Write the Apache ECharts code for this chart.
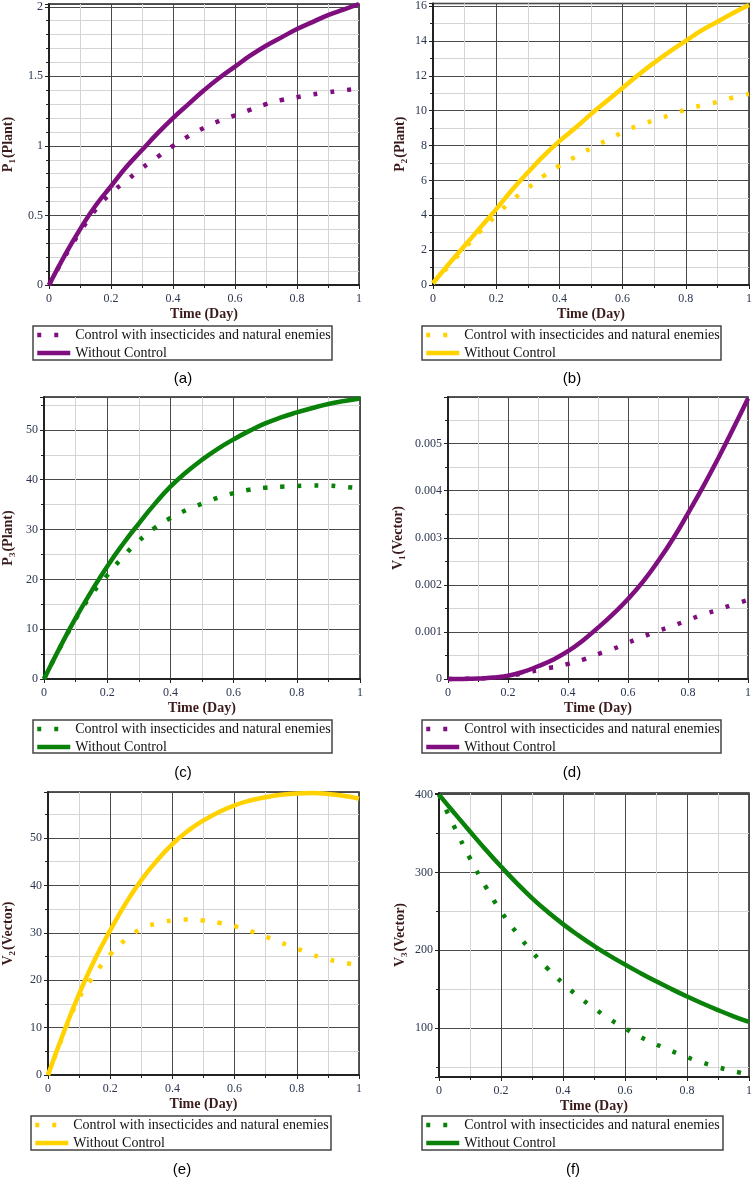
<!DOCTYPE html>
<html>
<head>
<meta charset="utf-8">
<script src="https://cdn.jsdelivr.net/npm/echarts@6/dist/echarts.min.js"></script>
<style>
  html, body { margin: 0; padding: 0; background: #fff; }
  #chart { width: 755px; height: 1180px; }
</style>
</head>
<body>
<div id="chart"></div>
<script>
// time axis (day)
const time = [0, 0.05, 0.1, 0.15, 0.2, 0.25, 0.3, 0.35, 0.4, 0.45, 0.5, 0.55, 0.6, 0.65, 0.7, 0.75, 0.8, 0.85, 0.9, 0.95, 1];

// plants
const p1Control = [0, 0.20, 0.38, 0.54, 0.66, 0.75, 0.84, 0.92, 1.00, 1.07, 1.13, 1.18, 1.22, 1.26, 1.30, 1.33, 1.35, 1.37, 1.385, 1.40, 1.41];
const p1Without = [0, 0.21, 0.40, 0.57, 0.71, 0.85, 0.97, 1.09, 1.20, 1.30, 1.40, 1.49, 1.57, 1.65, 1.72, 1.78, 1.84, 1.89, 1.94, 1.98, 2.02];
const p2Control = [0.1, 1.1, 2.1, 3.1, 4.0, 4.85, 5.55, 6.25, 6.85, 7.35, 7.85, 8.3, 8.75, 9.15, 9.45, 9.75, 10.05, 10.3, 10.5, 10.75, 10.95];
const p2Without = [0.1, 1.2, 2.25, 3.3, 4.35, 5.45, 6.45, 7.4, 8.25, 9.0, 9.8, 10.55, 11.3, 12.05, 12.75, 13.4, 14.0, 14.6, 15.1, 15.6, 16.06];
const p3Control = [0, 6.2, 12.0, 16.9, 20.8, 24.5, 27.7, 30.3, 32.3, 33.9, 35.2, 36.4, 37.3, 38.0, 38.4, 38.6, 38.75, 38.85, 38.8, 38.55, 38.3];
const p3Without = [0, 6.3, 12.2, 17.6, 22.6, 27.1, 31.2, 35.1, 38.6, 41.5, 44.0, 46.2, 48.1, 49.8, 51.3, 52.5, 53.5, 54.4, 55.2, 55.8, 56.3];

// vectors
const v1Control = [0, 0.000002, 0.00001, 0.00003, 0.00006, 0.00012, 0.00019, 0.00025, 0.00032, 0.00041, 0.00053, 0.00064, 0.00077, 0.0009, 0.00102, 0.00113, 0.00125, 0.00137, 0.00147, 0.00158, 0.00168];
const v1Without = [0, 0.000002, 0.00001, 0.00003, 0.00007, 0.00015, 0.00027, 0.00041, 0.00059, 0.00082, 0.00109, 0.00138, 0.0017, 0.00207, 0.0025, 0.00298, 0.00352, 0.00408, 0.00468, 0.00531, 0.00596];
const v2Control = [0, 8.6, 16.2, 21.2, 25.4, 28.6, 30.8, 32.0, 32.6, 32.8, 32.6, 32.1, 31.4, 30.4, 29.2, 27.9, 26.7, 25.4, 24.4, 23.7, 23.2];
const v2Without = [0, 8.9, 17.1, 24.3, 30.5, 36.2, 41.1, 45.2, 48.7, 51.5, 53.7, 55.5, 56.9, 57.9, 58.6, 59.1, 59.4, 59.5, 59.3, 58.9, 58.3];
const v3Control = [400, 358, 318, 282, 250, 222.5, 198, 176.5, 157.5, 140.5, 125.5, 111.5, 99.5, 88.5, 79, 70.5, 62.5, 55.5, 49.5, 44.5, 40];
const v3Without = [400, 376, 352.5, 329.5, 307.5, 286.5, 267, 249.5, 233.5, 219, 205.5, 193, 181.5, 170.5, 160, 150, 140.5, 131.5, 123, 115, 107.7];

const legendLabels = ['Control with insecticides and natural enemies', 'Without Control'];

const PURPLE = '#7f0f7f';
const YELLOW = '#ffd200';
const GREEN = '#0a820a';
const SERIF = '"Liberation Serif", "DejaVu Serif", serif';
const TICK_COLOR = '#2c3650';
const TITLE_COLOR = '#3a1a1a';

const panels = [
  { tag: 'a', sym: 'P', sub: '1', unit: '(Plant)', color: PURPLE, control: p1Control, without: p1Without,
    grid: [48, 4, 311, 281], y: { min: 0, max: 2.02, interval: 0.5, minor: 5 }, nameGap: 32,
    box: [33, 326, 299, 34], caption: [183, 379] },
  { tag: 'b', sym: 'P', sub: '2', unit: '(Plant)', color: YELLOW, control: p2Control, without: p2Without,
    grid: [433, 3, 316, 282], y: { min: 0, max: 16.15, interval: 2, minor: 2 }, nameGap: 24,
    box: [422, 326, 299, 34], caption: [572, 379] },
  { tag: 'c', sym: 'P', sub: '3', unit: '(Plant)', color: GREEN, control: p3Control, without: p3Without,
    grid: [44, 397, 316, 282], y: { min: 0, max: 56.6, interval: 10, minor: 2 }, nameGap: 27,
    box: [33, 720, 299, 33], caption: [183, 773] },
  { tag: 'd', sym: 'V', sub: '1', unit: '(Vector)', color: PURPLE, control: v1Control, without: v1Without,
    grid: [448, 397, 300, 282], y: { min: 0, max: 0.00599, interval: 0.001, minor: 2 }, nameGap: 41,
    box: [422, 720, 299, 33], caption: [572, 773] },
  { tag: 'e', sym: 'V', sub: '2', unit: '(Vector)', color: YELLOW, control: v2Control, without: v2Without,
    grid: [43, 792, 316, 283], y: { min: 0, max: 59.7, interval: 10, minor: 2 }, nameGap: 31,
    box: [31, 1116, 300, 34], caption: [182, 1170] },
  { tag: 'f', sym: 'V', sub: '3', unit: '(Vector)', color: GREEN, control: v3Control, without: v3Without,
    grid: [439, 793, 312, 284], y: { min: 37, max: 402, splitNumber: 4, minor: 2 }, nameGap: 30,
    box: [422, 1116, 301, 34], caption: [573, 1170] }
];

const pairs = ys => time.map((t, i) => [t, ys[i]]);

const grid = [], xAxis = [], yAxis = [], series = [], legend = [], graphic = [];

panels.forEach((p, i) => {
  grid.push({
    left: p.grid[0], top: p.grid[1], width: p.grid[2], height: p.grid[3],
    show: true, borderColor: '#222', borderWidth: 1.5, backgroundColor: '#fff'
  });
  xAxis.push({
    gridIndex: i, type: 'value', min: 0, max: 1, interval: 0.2,
    name: 'Time (Day)', nameLocation: 'middle', nameGap: 22,
    nameTextStyle: { fontFamily: SERIF, fontWeight: 'bold', fontSize: 14, color: TITLE_COLOR },
    axisLine: { show: true, onZero: false, lineStyle: { color: '#222', width: 2 } },
    axisTick: { show: true, length: 4, lineStyle: { color: '#222' } },
    minorTick: { show: true, splitNumber: 2, length: 3, lineStyle: { color: '#222' } },
    axisLabel: { fontFamily: SERIF, fontSize: 12, color: TICK_COLOR, margin: 8 },
    splitLine: { show: true, lineStyle: { color: '#4a4a4a', width: 1 } },
    minorSplitLine: { show: true, lineStyle: { color: '#d4d4d4', width: 1 } }
  });
  const y = {
    gridIndex: i, type: 'value', min: p.y.min, max: p.y.max,
    name: `{m|${p.sym}}{s|${p.sub}}{m|${p.unit}}`,
    nameLocation: 'middle', nameRotate: 90, nameGap: p.nameGap,
    nameTextStyle: {
      rich: {
        m: { fontFamily: SERIF, fontWeight: 'bold', fontSize: 14, color: TITLE_COLOR },
        s: { fontFamily: SERIF, fontWeight: 'bold', fontSize: 9, color: TITLE_COLOR, padding: [9, 1, 0, 0] }
      }
    },
    axisLine: { show: true, onZero: false, lineStyle: { color: '#222', width: 2 } },
    axisTick: { show: true, length: 4, lineStyle: { color: '#222' } },
    minorTick: { show: true, splitNumber: p.y.minor, length: 3, lineStyle: { color: '#222' } },
    axisLabel: { fontFamily: SERIF, fontSize: 12, color: TICK_COLOR, margin: 6,
      showMaxLabel: false, showMinLabel: p.y.min === 0 },
    splitLine: { show: true, lineStyle: { color: '#4a4a4a', width: 1 } },
    minorSplitLine: { show: true, lineStyle: { color: '#d4d4d4', width: 1 } }
  };
  if (p.y.interval) y.interval = p.y.interval;
  if (p.y.splitNumber) y.splitNumber = p.y.splitNumber;
  yAxis.push(y);

  const nControl = p.tag + '-control', nWithout = p.tag + '-without';
  series.push({
    name: nControl, type: 'line', xAxisIndex: i, yAxisIndex: i,
    data: pairs(p.control), symbol: 'none', smooth: true, clip: false,
    lineStyle: { color: p.color, width: 4.5, type: [4, 13], cap: 'butt' },
    itemStyle: { color: p.color }
  });
  series.push({
    name: nWithout, type: 'line', xAxisIndex: i, yAxisIndex: i,
    data: pairs(p.without), symbol: 'none', smooth: true, clip: false,
    lineStyle: { color: p.color, width: 4.5 },
    itemStyle: { color: p.color }
  });

  legend.push({
    data: [nControl, nWithout], orient: 'vertical',
    left: p.box[0] + 2, top: p.box[1] + 2, padding: 0, itemGap: 4,
    itemWidth: 33, itemHeight: 13, selectedMode: false,
    lineStyle: { width: 'inherit' },
    itemStyle: { opacity: 0, borderWidth: 0 },
    formatter: name => name.endsWith('control') ? legendLabels[0] : legendLabels[1],
    textStyle: { fontFamily: SERIF, fontSize: 14, color: '#111' }
  });

  graphic.push({
    type: 'rect', silent: true,
    shape: { x: p.box[0], y: p.box[1], width: p.box[2], height: p.box[3] },
    style: { fill: 'none', stroke: '#444', lineWidth: 1.5 }
  });
  graphic.push({
    type: 'text', silent: true, x: p.caption[0], y: p.caption[1],
    style: { text: `(${p.tag})`, fontFamily: '"Liberation Sans", "Open Sans", sans-serif', fontSize: 15,
      fill: '#000', align: 'center', verticalAlign: 'middle' }
  });
});

const chart = echarts.init(document.getElementById('chart'), null, { renderer: 'canvas' });
chart.setOption({
  backgroundColor: '#fff',
  animation: false,
  grid, xAxis, yAxis, series, legend, graphic
});
</script>
</body>
</html>
